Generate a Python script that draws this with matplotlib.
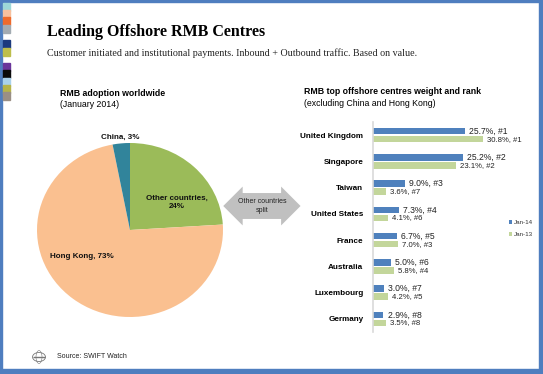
import numpy as np
import matplotlib.pyplot as plt
from matplotlib.patches import Rectangle, Circle, Ellipse

# pie data (January 2014)
pie_labels = ['Other countries,\n24%', 'Hong Kong, 73%', 'China, 3%']
pie_values = [24, 73, 3]
pie_colors = ['#9BBB59', '#FAC090', '#31849B']

# bar data
centres = ['United Kingdom', 'Singapore', 'Taiwan', 'United States',
           'France', 'Australia', 'Luxembourg', 'Germany']
jan14 = [25.7, 25.2, 9.0, 7.3, 6.7, 5.0, 3.0, 2.9]
jan14_rank = [1, 2, 3, 4, 5, 6, 7, 8]
jan13 = [30.8, 23.1, 3.6, 4.1, 7.0, 5.8, 4.2, 3.5]
jan13_rank = [1, 2, 7, 6, 3, 4, 5, 8]

W, H = 543, 374
sans = 'Liberation Sans'
serif = 'Liberation Serif'

def fx(x):
    return x / W

def fy(y):
    return 1 - y / H

fig = plt.figure(figsize=(W / 100, H / 100), dpi=100)
fig.patch.set_facecolor('white')

# blue frame
frame_c = '#4F7EBF'
fig.add_artist(Rectangle((0, fy(2)), 1, 2 / H, transform=fig.transFigure, color=frame_c))
fig.add_artist(Rectangle((0, 0), 1, 5 / H, transform=fig.transFigure, color=frame_c))
fig.add_artist(Rectangle((0, 0), 2 / W, 1, transform=fig.transFigure, color=frame_c))
fig.add_artist(Rectangle((fx(539), 0), 4 / W, 1, transform=fig.transFigure, color=frame_c))

# coloured strip on the left
strip = [(3, '#9ED8D8'), (10, '#F7C09E'), (17, '#EE6A2C'), (25, '#A3ABB2'),
         (40, '#1B3A7E'), (48, '#BDBE4C'), (63, '#6A359A'), (70, '#0A0A0A'),
         (78, '#A9D2EC'), (85, '#B6B44A'), (92, '#9A8F85')]
for y0, c in strip:
    fig.add_artist(Rectangle((fx(3), fy(y0 + 7.8)), 7 / W, 7.8 / H,
                             transform=fig.transFigure, color=c))

# titles
fig.text(fx(47), fy(32), 'Leading Offshore RMB Centres', family=serif,
         weight='bold', fontsize=11.5, va='center', ha='left')
fig.text(fx(47), fy(53), 'Customer initiated and institutional payments. '
         'Inbound + Outbound traffic. Based on value.', family=serif,
         fontsize=7.2, va='center', ha='left', color='#222222')

# pie
fig.text(fx(60), fy(94), 'RMB adoption worldwide', family=sans, weight='bold',
         fontsize=6.3, va='center')
fig.text(fx(60), fy(104.5), '(January 2014)', family=sans, fontsize=6.3, va='center')

cx, cy, rx, ry = 130, 230, 93, 87
axp = fig.add_axes([fx(cx - rx), fy(cy + ry), 2 * rx / W, 2 * ry / H])
axp.pie(pie_values, colors=pie_colors, startangle=90, counterclock=False,
        wedgeprops=dict(linewidth=0))
axp.set_aspect('auto')
axp.set_xlim(-1, 1)
axp.set_ylim(-1, 1)
label_pos = [(0.5, 0.32), (-0.52, -0.31), (-0.1, 1.07)]
for lab, (lx, ly) in zip(pie_labels, label_pos):
    axp.text(lx, ly, lab, ha='center', va='center', family=sans, weight='bold',
             fontsize=5.8, color='#111111', linespacing=1.3)

# double arrow
fig.text(fx(262), fy(206), 'Other countries\nsplit', family=sans, fontsize=5,
         ha='center', va='center', linespacing=1.3, color='#222222',
         bbox=dict(boxstyle='darrow,pad=0.75', fc='#C0C0C0', ec='none'))

# bar chart
fig.text(fx(304), fy(92), 'RMB top offshore centres weight and rank',
         family=sans, weight='bold', fontsize=6.3, va='center')
fig.text(fx(304), fy(103), '(excluding China and Hong Kong)', family=sans,
         fontsize=6.3, va='center')

axb = fig.add_axes([fx(373), fy(332), 143 / W, 210 / H])
y = np.arange(len(centres))
off = 0.15
h = 0.25
b14 = axb.barh(y - off, jan14, height=h, color='#4F81BD', label='Jan-14')
b13 = axb.barh(y + off, jan13, height=h, color='#C3D69B', label='Jan-13')
axb.bar_label(b14, labels=[f'{v:.1f}%, #{r}' for v, r in zip(jan14, jan14_rank)],
              padding=3, fontsize=6.2, family=sans, color='#222222')
axb.bar_label(b13, labels=[f'{v:.1f}%, #{r}' for v, r in zip(jan13, jan13_rank)],
              padding=3, fontsize=5.6, family=sans, color='#222222')
axb.set_xlim(0, 40)
axb.set_ylim(len(centres) - 0.5, -0.5)
axb.set_yticks(y)
axb.set_yticklabels(centres, family=sans, weight='bold', fontsize=5.9)
axb.tick_params(axis='y', length=0, pad=7)
axb.set_xticks([])
for s in ['top', 'right', 'bottom']:
    axb.spines[s].set_visible(False)
axb.spines['left'].set_color('#D9D9D9')
axb.spines['left'].set_linewidth(1.2)
axb.patch.set_alpha(0)
fig.legend(handles=[b14, b13], loc='upper left', bbox_to_anchor=(fx(503), fy(214)),
           frameon=False, prop=dict(family=sans, size=4.5), handlelength=0.6,
           handleheight=0.6, handletextpad=0.3, labelspacing=1.1,
           labelcolor='#333333')

# source + small globe icon
gx, gy = 39, 357
fig.add_artist(Circle((fx(gx), fy(gy)), 6.5 / W, transform=fig.transFigure,
                      fill=False, ec='#777777', lw=0.6))
fig.add_artist(Ellipse((fx(gx), fy(gy)), 6 / W, 13 / H, transform=fig.transFigure,
                       fill=False, ec='#777777', lw=0.4))
fig.add_artist(Rectangle((fx(gx - 6), fy(gy)), 12 / W, 0.4 / H,
                         transform=fig.transFigure, color='#777777'))
fig.text(fx(57), fy(357), 'Source: SWIFT Watch', family=sans, fontsize=5,
         va='center', color='#222222')

fig.savefig('out.png', dpi=100)
